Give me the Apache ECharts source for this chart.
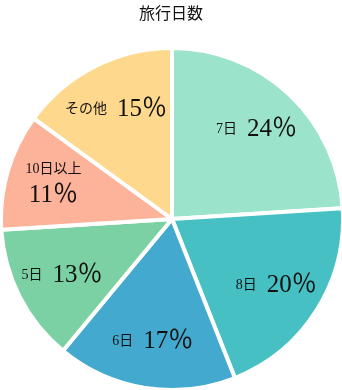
<!DOCTYPE html>
<html><head><meta charset="utf-8">
<script src="https://cdn.jsdelivr.net/npm/echarts@6/dist/echarts.min.js"></script>
<style>html,body{margin:0;padding:0;background:#fff}#c{width:342px;height:390px}</style>
</head><body><div id="c"></div>
<script>
const titleText = '旅行日数';
const categories = ['7日', '8日', '6日', '5日', '10日以上', 'その他'];
const values = [24, 20, 17, 13, 11, 15];
const colors = ['#9ce3cc', '#46c0c2', '#43a9ce', '#7bd1a4', '#fdb29a', '#fed98d'];

const serif = '"Liberation Serif", "DejaVu Serif", "Noto Sans CJK JP", serif';
const data = categories.map((c, i) => ({
  name: c, value: values[i], itemStyle: { color: colors[i] }
}));
const labelData = categories.map((c, i) => ({
  name: c, value: values[i],
  label: c === '10日以上' ? { formatter: '{n|{b}}\n{p|{d}％}' } : {}
}));

const chart = echarts.init(document.getElementById('c'));
chart.setOption({
  animation: false,
  title: {
    text: titleText, left: 'center', top: 2,
    textStyle: { fontSize: 16, fontWeight: 'normal', color: '#111', fontFamily: serif }
  },
  series: [
    {
      type: 'pie', center: [172, 219], radius: [0, 171], startAngle: 90, clockwise: true,
      data: data, label: { show: false }, labelLine: { show: false },
      itemStyle: { borderColor: '#fff', borderWidth: 4 }, silent: true
    },
    {
      type: 'pie', center: [172, 219], radius: [70, 171], startAngle: 90, clockwise: true,
      data: labelData, silent: true,
      itemStyle: { color: 'rgba(0,0,0,0)', borderWidth: 0 },
      labelLine: { show: false },
      label: {
        show: true, position: 'inside',
        formatter: '{n|{b}}   {p|{d}％}',
        rich: {
          n: { fontSize: 14, color: '#111', fontFamily: serif, lineHeight: 22 },
          p: { fontSize: 25, color: '#111', fontFamily: serif, lineHeight: 30 }
        }
      }
    }
  ]
});
</script></body></html>
